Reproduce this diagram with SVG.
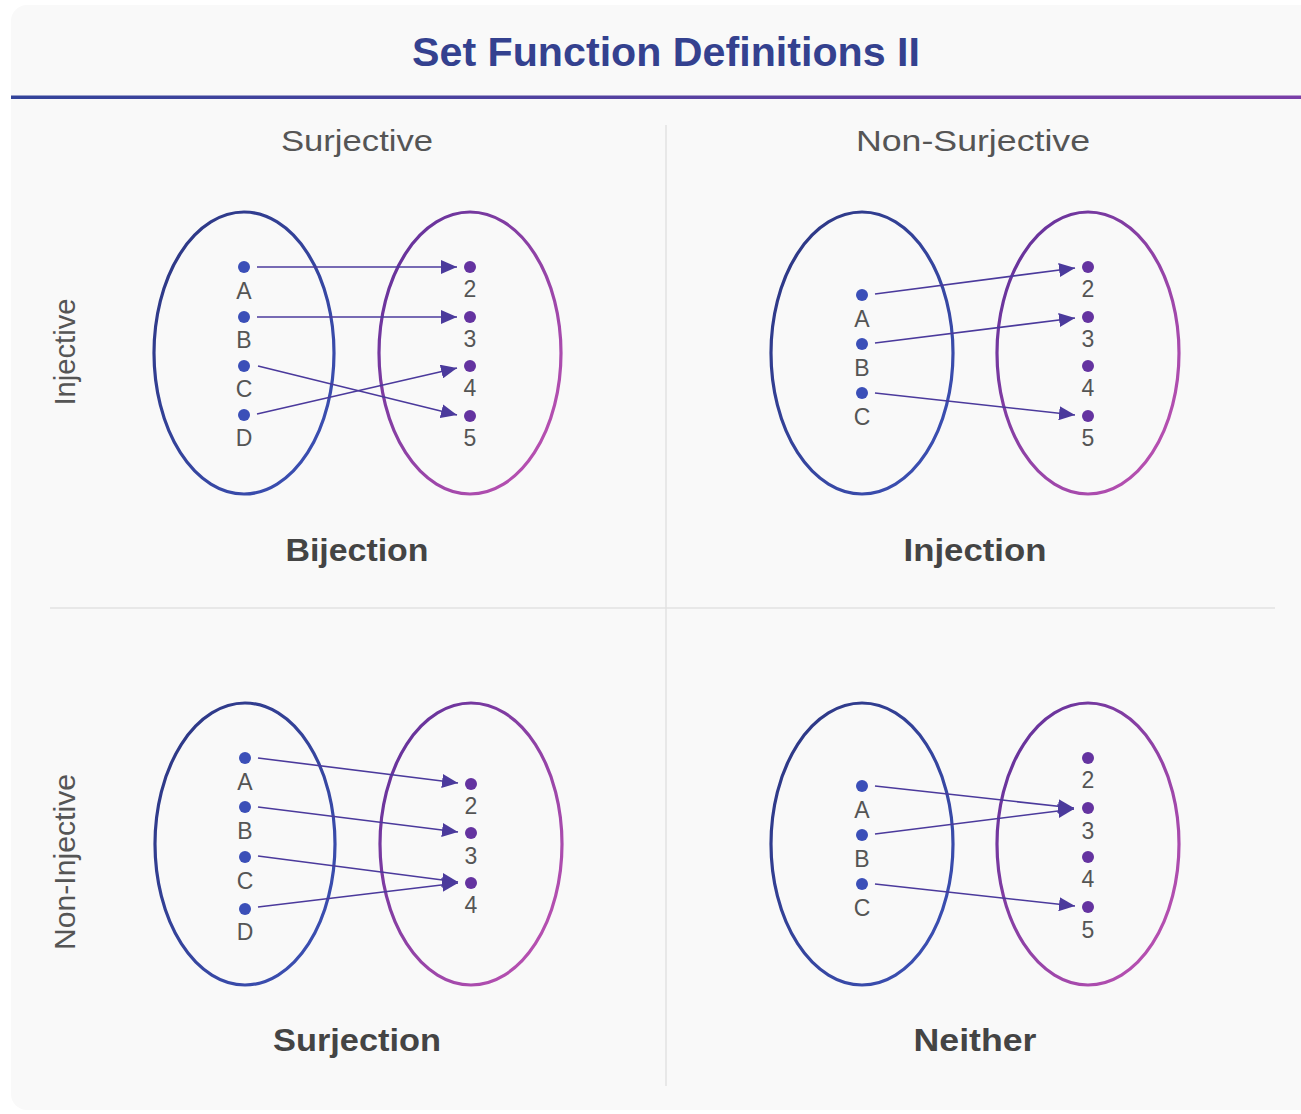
<svg xmlns="http://www.w3.org/2000/svg" width="1301" height="1114" viewBox="0 0 1301 1114">
<defs>
  <linearGradient id="hdr" x1="0" y1="0" x2="1" y2="0">
    <stop offset="0" stop-color="#33449a"/>
    <stop offset="1" stop-color="#7a3fa8"/>
  </linearGradient>
  <linearGradient id="setA" x1="0" y1="0" x2="1" y2="1">
    <stop offset="0" stop-color="#2c3580"/>
    <stop offset="1" stop-color="#3d52b8"/>
  </linearGradient>
  <linearGradient id="setB" x1="0" y1="0" x2="1" y2="1">
    <stop offset="0" stop-color="#5a2e98"/>
    <stop offset="1" stop-color="#c455b4"/>
  </linearGradient>
  <marker id="ah" markerUnits="userSpaceOnUse" markerWidth="18" markerHeight="14" refX="16" refY="7" orient="auto">
    <path d="M0,0 L16,7 L0,14 z" fill="#4b3a9c"/>
  </marker>
</defs>
<style>
  .card{fill:#f9f9f9}
  .div{stroke:#e2e2e2;stroke-width:1.5}
  .title{font-family:"Liberation Sans",Arial,sans-serif;font-weight:bold;font-size:40px;fill:#34418f}
  .col{font-family:"Liberation Sans",Arial,sans-serif;font-size:30px;fill:#555}
  .row{font-family:"Liberation Sans",Arial,sans-serif;font-size:29px;fill:#555}
  .cap{font-family:"Liberation Sans",Arial,sans-serif;font-weight:bold;font-size:31px;fill:#444}
  .lbl{font-family:"Liberation Sans",Arial,sans-serif;font-size:23px;fill:#555;text-anchor:middle}
  .ea{fill:none;stroke:url(#setA);stroke-width:3.2}
  .eb{fill:none;stroke:url(#setB);stroke-width:3.2}
  .da{fill:#3b4fb8}
  .db{fill:#6433a0}
  .arr{stroke:#4b3a9c;stroke-width:1.6;fill:none;marker-end:url(#ah)}
</style>
<rect x="0" y="0" width="1301" height="1114" fill="#ffffff"/>
<rect class="card" x="11" y="5" width="1320" height="1105" rx="16"/>
<text class="title" x="666" y="66" text-anchor="middle" textLength="508" lengthAdjust="spacingAndGlyphs">Set Function Definitions II</text>
<rect x="11" y="95.5" width="1290" height="3.5" fill="url(#hdr)"/>
<line class="div" x1="666" y1="125" x2="666" y2="1086"/>
<line class="div" x1="50" y1="608" x2="1275" y2="608"/>

<g id="headers">
  <text class="col" x="357" y="151" text-anchor="middle" textLength="152" lengthAdjust="spacingAndGlyphs">Surjective</text>
  <text class="col" x="973" y="151" text-anchor="middle" textLength="234" lengthAdjust="spacingAndGlyphs">Non-Surjective</text>
  <text class="row" transform="translate(75,352) rotate(-90)" text-anchor="middle" textLength="107" lengthAdjust="spacingAndGlyphs">Injective</text>
  <text class="row" transform="translate(75,862) rotate(-90)" text-anchor="middle" textLength="176" lengthAdjust="spacingAndGlyphs">Non-Injective</text>
</g>

<g id="bijection">
  <ellipse class="ea" cx="244" cy="353" rx="90" ry="141"/>
  <ellipse class="eb" cx="470" cy="353" rx="91" ry="141"/>
  <circle class="da" cx="244" cy="267" r="6"/><text class="lbl" x="244" y="299">A</text>
  <circle class="da" cx="244" cy="317" r="6"/><text class="lbl" x="244" y="348">B</text>
  <circle class="da" cx="244" cy="366" r="6"/><text class="lbl" x="244" y="397">C</text>
  <circle class="da" cx="244" cy="415" r="6"/><text class="lbl" x="244" y="446">D</text>
  <circle class="db" cx="470" cy="267" r="6"/><text class="lbl" x="470" y="297">2</text>
  <circle class="db" cx="470" cy="317" r="6"/><text class="lbl" x="470" y="347">3</text>
  <circle class="db" cx="470" cy="366" r="6"/><text class="lbl" x="470" y="396">4</text>
  <circle class="db" cx="470" cy="416" r="6"/><text class="lbl" x="470" y="446">5</text>
  <text class="cap" x="357" y="561" text-anchor="middle" textLength="143" lengthAdjust="spacingAndGlyphs">Bijection</text>
</g>

<g id="injection">
  <ellipse class="ea" cx="862" cy="353" rx="91" ry="141"/>
  <ellipse class="eb" cx="1088" cy="353" rx="91" ry="141"/>
  <circle class="da" cx="862" cy="295" r="6"/><text class="lbl" x="862" y="327">A</text>
  <circle class="da" cx="862" cy="344" r="6"/><text class="lbl" x="862" y="376">B</text>
  <circle class="da" cx="862" cy="393" r="6"/><text class="lbl" x="862" y="425">C</text>
  <circle class="db" cx="1088" cy="267" r="6"/><text class="lbl" x="1088" y="297">2</text>
  <circle class="db" cx="1088" cy="317" r="6"/><text class="lbl" x="1088" y="347">3</text>
  <circle class="db" cx="1088" cy="366" r="6"/><text class="lbl" x="1088" y="396">4</text>
  <circle class="db" cx="1088" cy="416" r="6"/><text class="lbl" x="1088" y="446">5</text>
  <text class="cap" x="975" y="561" text-anchor="middle" textLength="143" lengthAdjust="spacingAndGlyphs">Injection</text>
</g>

<g id="surjection">
  <ellipse class="ea" cx="245" cy="844" rx="90" ry="141"/>
  <ellipse class="eb" cx="471" cy="844" rx="91" ry="141"/>
  <circle class="da" cx="245" cy="758" r="6"/><text class="lbl" x="245" y="790">A</text>
  <circle class="da" cx="245" cy="807" r="6"/><text class="lbl" x="245" y="839">B</text>
  <circle class="da" cx="245" cy="857" r="6"/><text class="lbl" x="245" y="889">C</text>
  <circle class="da" cx="245" cy="909" r="6"/><text class="lbl" x="245" y="940">D</text>
  <circle class="db" cx="471" cy="784" r="6"/><text class="lbl" x="471" y="814">2</text>
  <circle class="db" cx="471" cy="833" r="6"/><text class="lbl" x="471" y="864">3</text>
  <circle class="db" cx="471" cy="883" r="6"/><text class="lbl" x="471" y="913">4</text>
  <text class="cap" x="357" y="1051" text-anchor="middle" textLength="168" lengthAdjust="spacingAndGlyphs">Surjection</text>
</g>

<g id="neither">
  <ellipse class="ea" cx="862" cy="844" rx="91" ry="141"/>
  <ellipse class="eb" cx="1088" cy="844" rx="91" ry="141"/>
  <circle class="da" cx="862" cy="786" r="6"/><text class="lbl" x="862" y="818">A</text>
  <circle class="da" cx="862" cy="835" r="6"/><text class="lbl" x="862" y="867">B</text>
  <circle class="da" cx="862" cy="884" r="6"/><text class="lbl" x="862" y="916">C</text>
  <circle class="db" cx="1088" cy="758" r="6"/><text class="lbl" x="1088" y="788">2</text>
  <circle class="db" cx="1088" cy="808" r="6"/><text class="lbl" x="1088" y="839">3</text>
  <circle class="db" cx="1088" cy="857" r="6"/><text class="lbl" x="1088" y="887">4</text>
  <circle class="db" cx="1088" cy="907" r="6"/><text class="lbl" x="1088" y="938">5</text>
  <text class="cap" x="975" y="1051" text-anchor="middle" textLength="123" lengthAdjust="spacingAndGlyphs">Neither</text>
</g>

<g id="connectors">
  <line class="arr" x1="257" y1="267" x2="457" y2="267"/>
  <line class="arr" x1="257" y1="317" x2="457" y2="317"/>
  <line class="arr" x1="258" y1="366" x2="457" y2="415"/>
  <line class="arr" x1="257" y1="414" x2="457" y2="368"/>

  <line class="arr" x1="875" y1="294" x2="1075" y2="268"/>
  <line class="arr" x1="875" y1="343" x2="1075" y2="318"/>
  <line class="arr" x1="875" y1="393" x2="1075" y2="415"/>

  <line class="arr" x1="258" y1="758" x2="458" y2="783"/>
  <line class="arr" x1="258" y1="807" x2="458" y2="832"/>
  <line class="arr" x1="258" y1="856" x2="458" y2="882"/>
  <line class="arr" x1="258" y1="907" x2="458" y2="883"/>

  <line class="arr" x1="875" y1="786" x2="1074" y2="808"/>
  <line class="arr" x1="875" y1="834" x2="1074" y2="809"/>
  <line class="arr" x1="875" y1="884" x2="1075" y2="906"/>
</g>
</svg>
